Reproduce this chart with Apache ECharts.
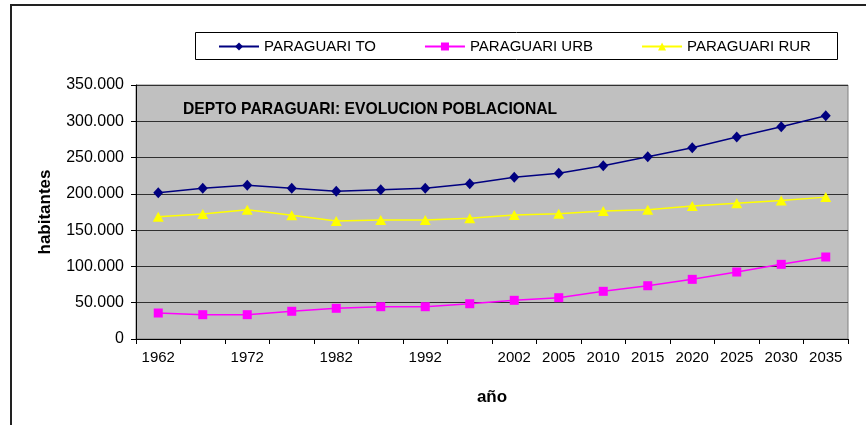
<!DOCTYPE html>
<html>
<head>
<meta charset="utf-8">
<script src="https://cdn.jsdelivr.net/npm/echarts@6/dist/echarts.min.js"></script>
<style>html,body{margin:0;padding:0;background:#fff}#c{width:866px;height:425px}</style>
</head>
<body>
<div id="c"></div>
<script>
var years = ['1962','1967','1972','1977','1982','1987','1992','1997','2002','2005','2010','2015','2020','2025','2030','2035'];
var labeledYears = ['1962','1972','1982','1992','2002','2005','2010','2015','2020','2025','2030','2035'];
var totalValues = [201600,207600,211800,207600,203500,205700,207600,214000,222800,228300,238800,251200,263600,278300,292600,307700];
var urbValues = [35800,33500,33500,38200,42300,44500,44500,48600,53300,56900,65700,73400,82200,92300,102900,113000];
var rurValues = [168500,172200,178200,170400,162600,164000,164000,166300,170900,172700,176400,178200,183300,187000,190800,195500];
var seriesNames = ['PARAGUARI TO','PARAGUARI URB','PARAGUARI RUR'];
var chartTitle = 'DEPTO PARAGUARI: EVOLUCION POBLACIONAL';
var yName = 'habitantes';
var xName = 'año';

var FONT = '"Liberation Sans", Arial, sans-serif';
var chart = echarts.init(document.getElementById('c'), null, {renderer: 'canvas'});
function fmt(v){ return String(v).replace(/\B(?=(\d{3})+(?!\d))/g, '.'); }
chart.setOption({
  animation: false,
  backgroundColor: '#fff',
  graphic: [
    {type: 'rect', z: -10, shape: {x: 11, y: 5, width: 900, height: 500}, style: {fill: '#fff', stroke: '#222', lineWidth: 2}},
    {type: 'rect', z: 1, shape: {x: 195.5, y: 32.5, width: 642, height: 27}, style: {fill: '#fff', stroke: '#000', lineWidth: 1}},
    {type: 'text', z: 10, left: 183, top: 102, style: {text: chartTitle, font: 'bold 15.7px ' + FONT, fill: '#000'}}
  ],
  legend: {
    left: 213, top: 34, itemWidth: 40, itemHeight: 10, itemGap: 48, z: 5,
    textStyle: {fontFamily: FONT, fontSize: 15, color: '#000'},
    data: seriesNames
  },
  grid: {left: 136, right: 18, top: 85, bottom: 86, show: true, backgroundColor: '#C0C0C0', borderColor: '#808080', borderWidth: 1},
  xAxis: {
    type: 'category', data: years, boundaryGap: true,
    name: xName, nameLocation: 'middle', nameGap: 50,
    nameTextStyle: {fontFamily: FONT, fontSize: 17, fontWeight: 'bold', color: '#000'},
    axisLine: {lineStyle: {color: '#000', width: 1}},
    axisTick: {show: true, interval: 0, length: 5, lineStyle: {color: '#000'}},
    axisLabel: {interval: 0, margin: 11, fontFamily: FONT, fontSize: 15, color: '#000',
      formatter: function(v){ return labeledYears.indexOf(v) >= 0 ? v : ''; }},
    splitLine: {show: false}
  },
  yAxis: {
    type: 'value', min: 0, max: 350000, interval: 50000,
    name: yName, nameLocation: 'middle', nameGap: 82, nameRotate: 90,
    nameTextStyle: {fontFamily: FONT, fontSize: 17, fontWeight: 'bold', color: '#000'},
    axisLine: {show: true, lineStyle: {color: '#000', width: 1}},
    axisTick: {show: true, length: 5, lineStyle: {color: '#000'}},
    axisLabel: {margin: 12, fontFamily: FONT, fontSize: 16, color: '#000', formatter: fmt},
    splitLine: {show: true, lineStyle: {color: '#303030', width: 1}}
  },
  series: [
    {name: seriesNames[0], type: 'line', data: totalValues, symbol: 'diamond', symbolSize: [10, 11],
      itemStyle: {color: '#000080'}, lineStyle: {color: '#000080', width: 1.5}, z: 3},
    {name: seriesNames[1], type: 'line', data: urbValues, symbol: 'rect', symbolSize: 9,
      itemStyle: {color: '#FF00FF'}, lineStyle: {color: '#FF00FF', width: 1.5}, z: 3},
    {name: seriesNames[2], type: 'line', data: rurValues, symbol: 'triangle', symbolSize: [11, 10],
      itemStyle: {color: '#FFFF00'}, lineStyle: {color: '#FFFF00', width: 1.5}, z: 3}
  ]
});
</script>
</body>
</html>
